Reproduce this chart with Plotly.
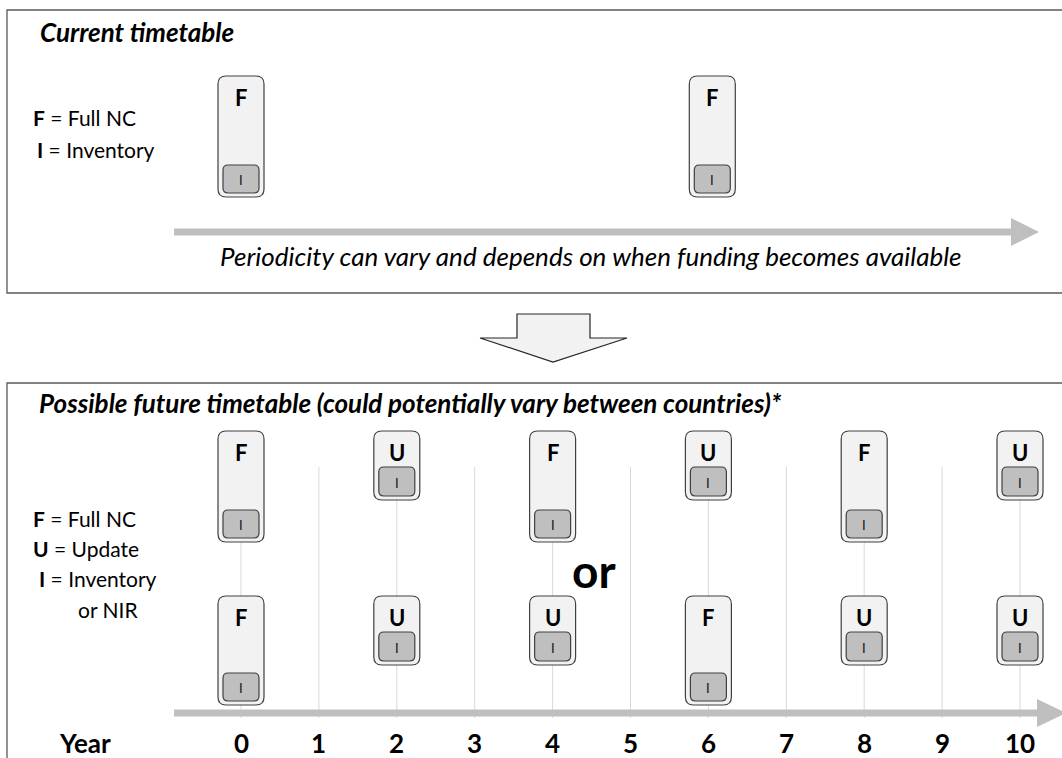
import plotly.graph_objects as go

# ---------------- data ----------------
years = list(range(11))
year_labels = [str(y) for y in years]
axis_label = "Year"

current_years = [0, 6.05]
current_types = ["F", "F"]

future_a_years = [0, 2, 4, 6, 8, 10]
future_a_types = ["F", "U", "F", "U", "F", "U"]

future_b_years = [0, 2, 4, 6, 8, 10]
future_b_types = ["F", "U", "U", "F", "U", "U"]

inner_label = "I"

current_title = "Current timetable"
current_note = "Periodicity can vary and depends on when funding becomes available"
current_legend = ["<b>F</b> = Full NC", "<b>I</b> = Inventory"]

future_title = "Possible future timetable (could potentially vary between countries)*"
future_legend = ["<b>F</b> = Full NC", "<b>U</b> = Update", "<b>I</b> = Inventory", "or NIR"]
or_label = "or"

# ---------------- layout / style ----------------
W, H = 1062, 758
X0PX, PPY = 241.0, 77.9          # pixel of year 0, pixels per year
FONT = "Lato"
DARK = "#404040"
BOXFILL = "#f2f2f2"
IFILL = "#bfbfbf"
ARROW = "#bfbfbf"
GRID = "#d9d9d9"
BORDER = "#595959"


def px(xp):
    return (xp - X0PX) / PPY


HW, R = 23, 8        # outer box half width / corner radius (px)
IHW, IR = 18, 5      # inner box


def rrect(xc, y0, y1, hw, r):
    x0, x1 = xc - hw / PPY, xc + hw / PPY
    rx = r / PPY
    return (f"M {x0+rx},{y0} L {x1-rx},{y0} Q {x1},{y0} {x1},{y0+r} "
            f"L {x1},{y1-r} Q {x1},{y1} {x1-rx},{y1} L {x0+rx},{y1} "
            f"Q {x0},{y1} {x0},{y1-r} L {x0},{y0+r} Q {x0},{y0} {x0+rx},{y0} Z")


fig = go.Figure()
shapes = []
annotations = []


def text(x, y, s, size, xanchor="center", color="black", **kw):
    annotations.append(dict(x=x, y=y, xref="x", yref="y", text=s, showarrow=False,
                            xanchor=xanchor, yanchor="middle",
                            font=dict(family=FONT, size=size, color=color), **kw))


def box(xc, top, bottom, i0, i1, kind):
    shapes.append(dict(type="path", path=rrect(xc, top, bottom, HW, R),
                       fillcolor=BOXFILL, line=dict(color=DARK, width=1.2), layer="above"))
    shapes.append(dict(type="path", path=rrect(xc, i0, i1, IHW, IR),
                       fillcolor=IFILL, line=dict(color=DARK, width=1.2), layer="above"))
    text(xc, top + 21, f"<b>{kind}</b>", 22)
    text(xc, (i0 + i1) / 2 + 1, inner_label, 13, color="#111111")


def event_box(xc, kind, top, f_h, u_h):
    bottom = top + (f_h if kind == "F" else u_h)
    if kind == "F":
        i0, i1 = bottom - 32, bottom - 4
    else:
        i0, i1 = top + 36, top + 65
    box(xc, top, bottom, i0, i1, kind)


# panel borders
shapes.append(dict(type="rect", x0=px(7), x1=px(1080), y0=10, y1=293,
                   line=dict(color=BORDER, width=1.3), fillcolor="rgba(0,0,0,0)", layer="above"))
shapes.append(dict(type="rect", x0=px(7), x1=px(1080), y0=383, y1=780,
                   line=dict(color=BORDER, width=1.3), fillcolor="rgba(0,0,0,0)", layer="above"))

# ----- top panel -----
text(px(38), 32, f"<b><i>{current_title}</i></b>", 26, xanchor="left")
text(px(31), 117, current_legend[0], 21, xanchor="left")
text(px(35), 149, current_legend[1], 21, xanchor="left")
for yr, k in zip(current_years, current_types):
    box(yr, 76, 197, 165, 193, k)

# top arrow
shapes.append(dict(type="line", x0=px(174), x1=px(1012), y0=232, y1=232,
                   line=dict(color=ARROW, width=7), layer="above"))
shapes.append(dict(type="path", path=f"M {px(1011)},218 L {px(1039)},232 L {px(1011)},246 Z",
                   fillcolor=ARROW, line=dict(width=0), layer="above"))
text(px(590), 256, f"<i>{current_note}</i>", 26)

# down block arrow
pts = [(517, 314), (590, 314), (590, 338), (627, 338), (553, 362), (480, 338), (517, 338)]
path = "M " + " L ".join(f"{px(a)},{b}" for a, b in pts) + " Z"
shapes.append(dict(type="path", path=path, fillcolor=BOXFILL,
                   line=dict(color="#262626", width=1.2), layer="above"))

# ----- lower panel -----
text(px(37), 403, f"<b><i>{future_title}</i></b>", 26, xanchor="left")
leg_y = [518, 548, 578, 609]
leg_x = [31, 31, 37, 76]
for s, xx, yy in zip(future_legend, leg_x, leg_y):
    text(px(xx), yy, s, 21, xanchor="left")

# gridlines (one per year)
gx, gy = [], []
for yr in years:
    gx += [yr, yr, None]
    gy += [467, 718, None]
fig.add_trace(go.Scatter(x=gx, y=gy, mode="lines", line=dict(color=GRID, width=1),
                         hoverinfo="skip"))

for yr, k in zip(future_a_years, future_a_types):
    event_box(yr, k, 431, 111, 69)
for yr, k in zip(future_b_years, future_b_types):
    event_box(yr, k, 596, 109, 69)

text(px(594), 570, f"<b>{or_label}</b>", 46)

# bottom arrow
shapes.append(dict(type="line", x0=px(174), x1=px(1038), y0=713, y1=713,
                   line=dict(color=ARROW, width=7), layer="above"))
shapes.append(dict(type="path", path=f"M {px(1037)},699 L {px(1066)},713 L {px(1037)},727 Z",
                   fillcolor=ARROW, line=dict(width=0), layer="above"))

# year labels
text(px(85), 743, f"<b>{axis_label}</b>", 26)
for yr, lab in zip(years, year_labels):
    text(yr, 743, f"<b>{lab}</b>", 26)

fig.update_layout(
    width=W, height=H, margin=dict(l=0, r=0, t=0, b=0),
    paper_bgcolor="white", plot_bgcolor="white", showlegend=False,
    xaxis=dict(range=[px(0), px(W)], visible=False, fixedrange=True),
    yaxis=dict(range=[H, 0], visible=False, fixedrange=True),
    shapes=shapes, annotations=annotations,
)

fig.write_html("out.html", config={"displayModeBar": False},
               post_script="document.body.style.margin='0px';document.body.style.overflow='hidden';")
